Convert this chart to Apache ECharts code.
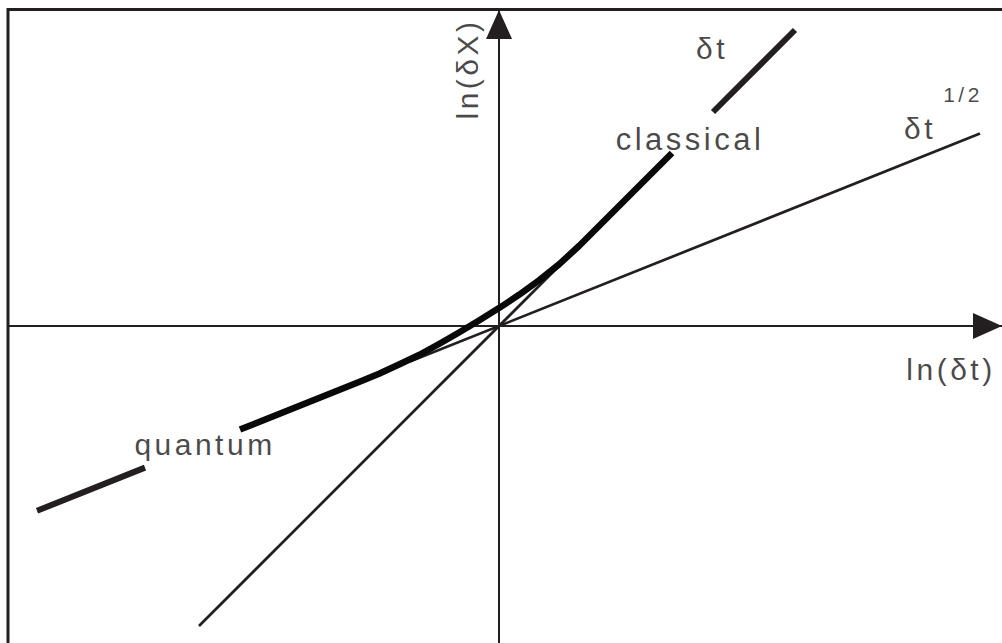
<!DOCTYPE html>
<html>
<head>
<meta charset="utf-8">
<script src="https://cdn.jsdelivr.net/npm/echarts@6/dist/echarts.min.js"></script>
<style>
  html, body { margin: 0; padding: 0; background: #fff; }
  #main { width: 1002px; height: 643px; }
  #main text { letter-spacing: 3.5px; }
</style>
</head>
<body>
<div id="main"></div>
<script>
// axis ranges, 1 unit = 100px so both slopes read as drawn
const xRange = [-4.91, 5.13];
const yRange = [-3.27, 3.165];

// thin reference lines: δt (slope 1) and δt^(1/2)
const classicalLine = [[-3.00, -3.00], [0.73, 0.73]];
const diffusiveLine = [[-0.89, -0.356], [4.81, 1.924]];

// thick crossover curve, split where the labels sit
const quantumPiece = [[-4.62, -1.848], [-3.54, -1.416]];
const crossover = [
  [-2.59, -1.036], [-1.40, -0.56], [-1.20, -0.478], [-1.00, -0.385],
  [-0.80, -0.29], [-0.60, -0.18], [-0.40, -0.065], [-0.20, 0.055],
  [0, 0.179], [0.20, 0.312], [0.40, 0.456], [0.60, 0.616],
  [0.80, 0.80], [1.73, 1.73]
];
const classicalPiece = [[2.14, 2.14], [2.96, 2.96]];

// annotations
const noteText = ['quantum', 'classical', 'δt', 'δt', '1/2', 'ln(δt)', 'ln(δX)'];
const noteX = [-2.94, 1.91, 2.13, 4.21, 4.64, 4.52, -0.32];
const noteY = [-1.185, 1.865, 2.775, 1.975, 2.32, -0.43, 2.57];
const noteSize = [30, 31, 30, 30, 21, 30, 30];
const noteRotate = [0, 0, 0, 0, 0, 0, 90];

const ink = '#231f20';

function lineSeries(data, width, color) {
  return {
    type: 'line',
    data: data,
    showSymbol: false,
    symbol: 'none',
    silent: true,
    lineStyle: { color: color || ink, width: width, cap: 'butt', join: 'round' }
  };
}

let myChart = echarts.init(document.getElementById('main'), null, { renderer: 'svg' });

myChart.setOption({
  animation: false,
  grid: {
    show: true,
    left: 8,
    top: 9.5,
    right: -10,
    bottom: -10,
    outerBoundsMode: 'none',
    containLabel: false,
    borderColor: ink,
    borderWidth: 3
  },
  xAxis: {
    type: 'value',
    min: xRange[0],
    max: xRange[1],
    axisLine: {
      onZero: true,
      lineStyle: { color: ink, width: 2 },
      symbol: ['none', 'triangle'],
      symbolSize: [26, 29],
      symbolOffset: [0, -24.5]
    },
    axisTick: { show: false },
    axisLabel: { show: false },
    splitLine: { show: false }
  },
  yAxis: {
    type: 'value',
    min: yRange[0],
    max: yRange[1],
    axisLine: {
      onZero: true,
      lineStyle: { color: ink, width: 2 },
      symbol: ['none', 'triangle'],
      symbolSize: [26, 29],
      symbolOffset: [0, -15]
    },
    axisTick: { show: false },
    axisLabel: { show: false },
    splitLine: { show: false }
  },
  series: [
    lineSeries(classicalLine, 2.7),
    lineSeries(diffusiveLine, 2.7),
    lineSeries(quantumPiece, 6),
    lineSeries(crossover, 6.5, '#0a0909'),
    lineSeries(classicalPiece, 6),
    {
      type: 'scatter',
      symbolSize: 0,
      silent: true,
      data: noteText.map(function (t, i) {
        return {
          name: t,
          value: [noteX[i], noteY[i]],
          label: { fontSize: noteSize[i], rotate: noteRotate[i] }
        };
      }),
      label: {
        show: true,
        position: 'inside',
        formatter: '{b}',
        color: '#1a1718',
        fontFamily: 'Liberation Sans',
        align: 'center',
        verticalAlign: 'middle'
      }
    }
  ]
});
</script>
</body>
</html>
